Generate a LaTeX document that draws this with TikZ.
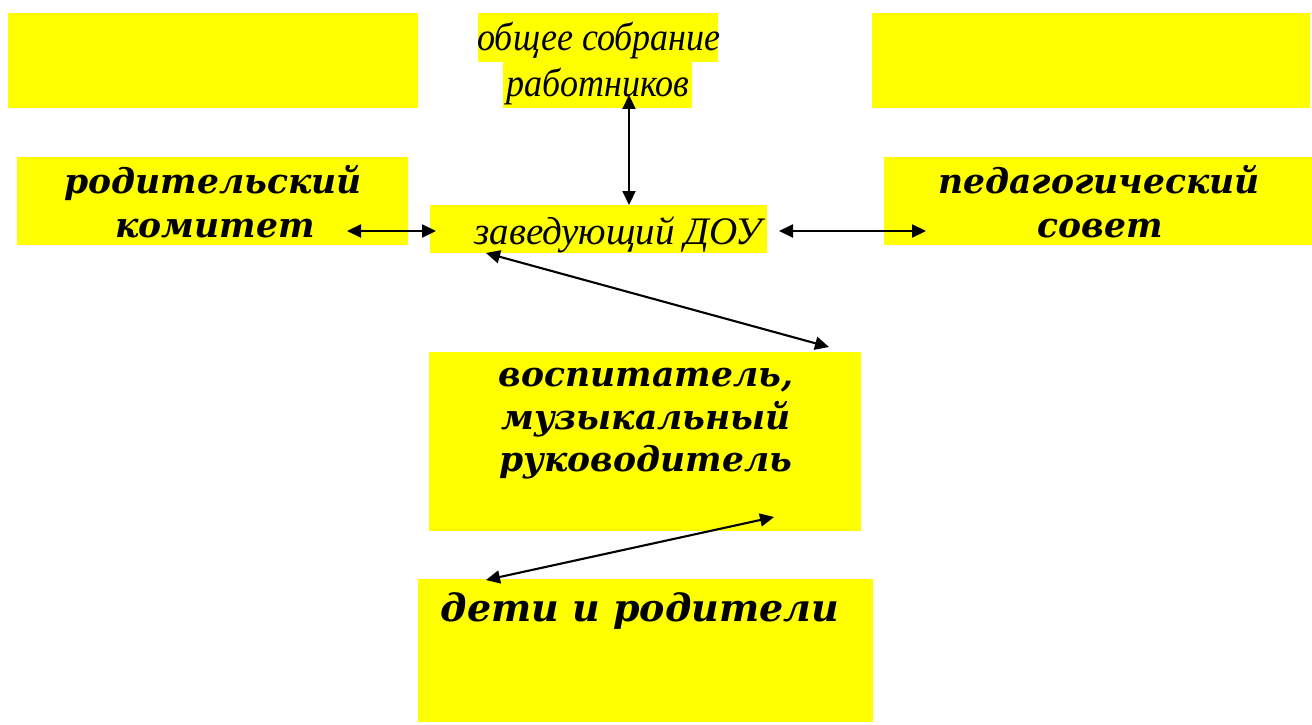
\documentclass[tikz,border=0pt]{standalone}
\usepackage{fontspec}
\setmainfont{Liberation Serif}
\newfontfamily\bookf{DejaVu Serif}
\usetikzlibrary{arrows.meta}
\definecolor{ylw}{RGB}{255,255,0}
\begin{document}
\begin{tikzpicture}[x=1bp,y=-1bp,
  box/.style={fill=ylw, inner sep=0pt, outer sep=0pt, anchor=north west},
  bt/.style={font=\bookf\bfseries\itshape\fontsize{34.5bp}{40bp}\selectfont, inner sep=0pt, anchor=base},
  ct/.style={font=\itshape\fontsize{36bp}{40bp}\selectfont, inner sep=0pt, anchor=base},
  arr/.style={{Triangle[length=14bp,width=13bp]}-{Triangle[length=14bp,width=13bp]}, line width=2.1bp}]
\useasboundingbox (0,0) rectangle (1312,724);
\fill[white] (0,0) rectangle (1312,724);
% boxes
\node[box, minimum width=410bp, minimum height=95bp] (tl) at (8,13) {};
\node[box, minimum width=240bp, minimum height=49bp] (tm1) at (478,13) {};
\node[box, minimum width=189bp, minimum height=46bp] (tm2) at (503,62) {};
\node[box, minimum width=438bp, minimum height=95bp] (tr) at (872,13) {};
\node[box, minimum width=391bp, minimum height=88bp] (rk) at (17,157) {};
\node[box, minimum width=337bp, minimum height=48bp] (zd) at (430,205) {};
\node[box, minimum width=428bp, minimum height=88bp] (ps) at (884,157) {};
\node[box, minimum width=432bp, minimum height=179bp] (vs) at (429,352) {};
\node[box, minimum width=455bp, minimum height=143bp] (dr) at (418,579) {};
% texts
\node[ct, yscale=1.1] (t1) at (599,51) {общее собрание};
\node[ct, yscale=1.1] (t2) at (598,97) {работников};
\node[bt] (t3) at (213,193) {родительский};
\node[bt] (t4) at (215,237) {комитет};
\node[bt] (t5) at (1099,193) {педагогический};
\node[bt] (t6) at (1100,237) {совет};
\node[ct, font=\itshape\fontsize{39bp}{40bp}\selectfont] (t7) at (618,244) {заведующий ДОУ};
\node[bt] (t8) at (646,386) {воспитатель,};
\node[bt] (t9) at (646,429) {музыкальный};
\node[bt] (t10) at (646,471) {руководитель};
\node[bt, font=\bookf\bfseries\itshape\fontsize{38bp}{40bp}\selectfont] (t11) at (640,621) {дети и родители};
% arrows
\coordinate (a1) at (629,95);
\coordinate (a2) at (629,205);
\coordinate (b1) at (347,231);
\coordinate (b2) at (436,231);
\coordinate (c1) at (779,231);
\coordinate (c2) at (926,231);
\coordinate (d1) at (486,253);
\coordinate (d2) at (829,347);
\coordinate (e1) at (774,517);
\coordinate (e2) at (486,580);
\draw[arr] (a1) -- (a2);
\draw[arr] (b1) -- (b2);
\draw[arr] (c1) -- (c2);
\draw[arr] (d1) -- (d2);
\draw[arr] (e1) -- (e2);
\end{tikzpicture}
\end{document}
